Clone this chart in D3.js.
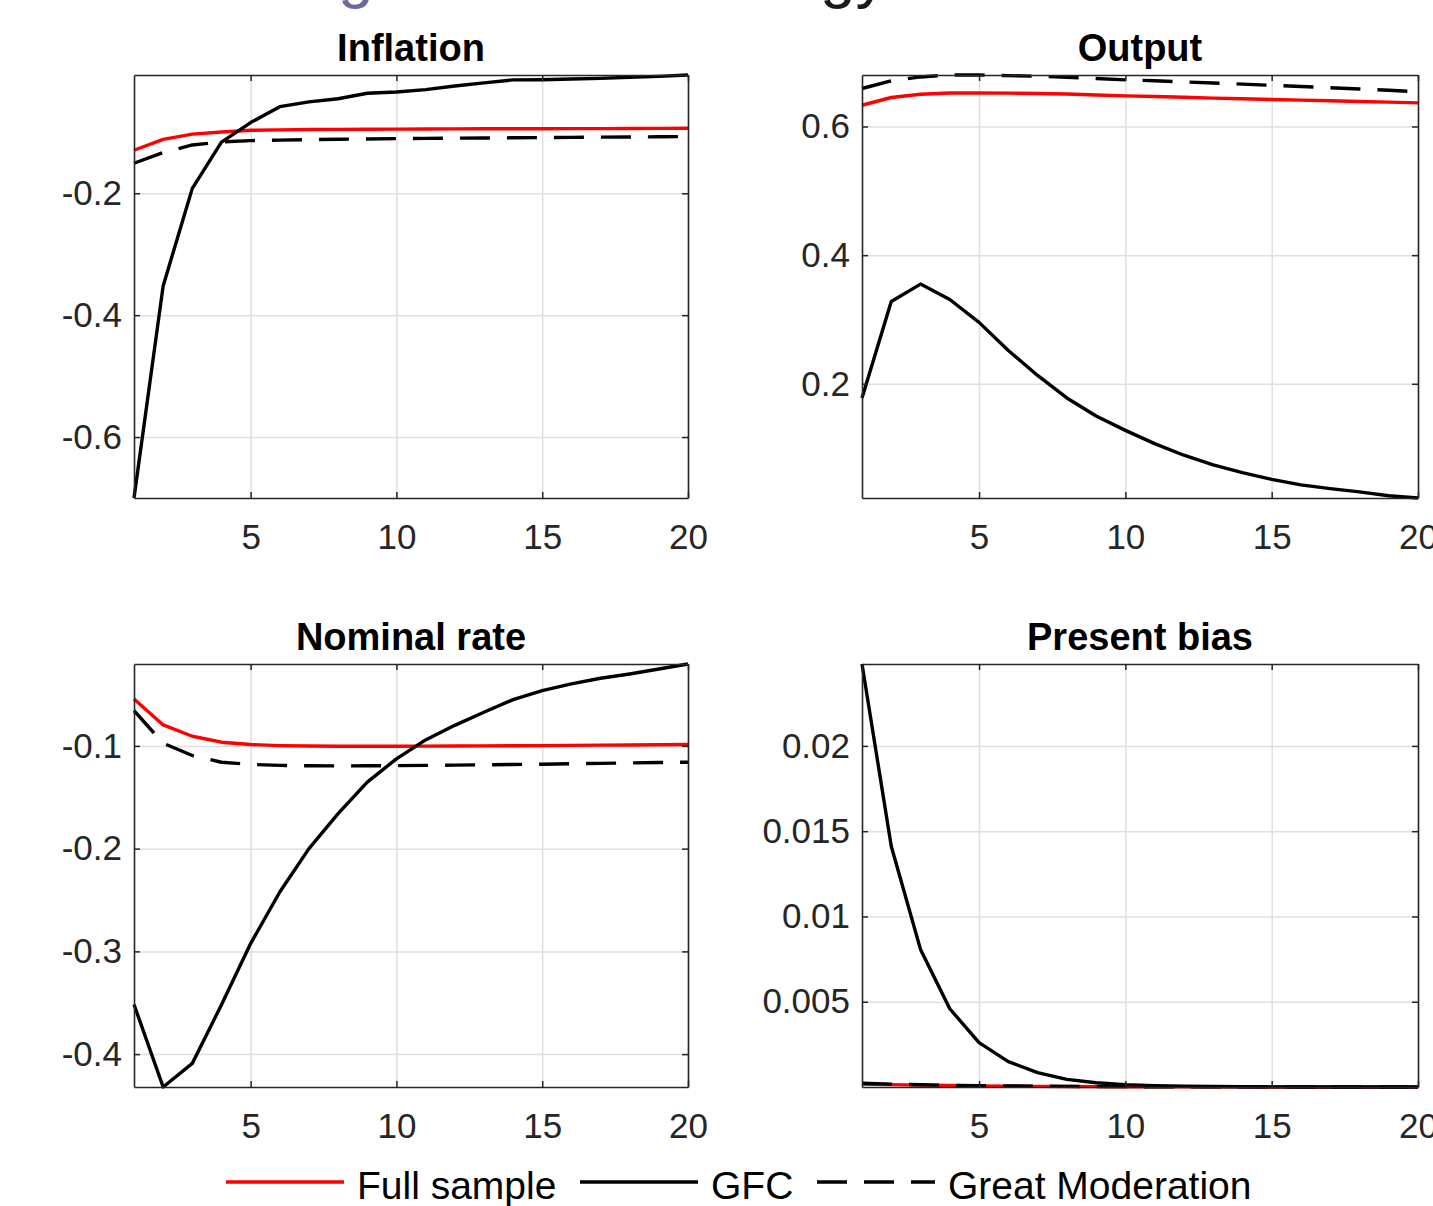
<!DOCTYPE html>
<html>
<head>
<meta charset="utf-8">
<script src="https://cdn.jsdelivr.net/npm/d3@7"></script>
<style>
  body { margin: 0; background: #fff; }
  svg { display: block; font-family: "Liberation Sans", Arial, sans-serif; }
</style>
</head>
<body>
<div id="chart"></div>
<script>
// horizons and tick labels
var periods = [1, 2, 3, 4, 5, 6, 7, 8, 9, 10, 11, 12, 13, 14, 15, 16, 17, 18, 19, 20];
var xTicks = [5, 10, 15, 20];
var legendLabels = ["Full sample", "GFC", "Great Moderation"];

// Inflation
var inflationFull = [-0.1295, -0.1115, -0.103, -0.0995, -0.0967, -0.096, -0.0955, -0.0952, -0.095, -0.0948,
  -0.0946, -0.0944, -0.0943, -0.0942, -0.0941, -0.094, -0.0939, -0.0937, -0.0936, -0.0934];
var inflationGFC = [-0.700, -0.352, -0.192, -0.116, -0.084, -0.058, -0.050, -0.045, -0.036, -0.034,
  -0.030, -0.024, -0.019, -0.014, -0.0137, -0.0126, -0.0115, -0.0098, -0.0082, -0.006];
var inflationGM = [-0.1508, -0.1333, -0.1208, -0.1158, -0.1137, -0.1128, -0.112, -0.1114, -0.1109, -0.1104,
  -0.11, -0.1097, -0.1094, -0.109, -0.1087, -0.1084, -0.108, -0.1077, -0.1073, -0.107];
var inflationTicks = [-0.6, -0.4, -0.2];

// Output
var outputFull = [0.633, 0.645, 0.650, 0.652, 0.652, 0.6518, 0.6512, 0.6505, 0.649, 0.6476,
  0.6465, 0.6453, 0.644, 0.643, 0.642, 0.641, 0.6399, 0.6388, 0.6378, 0.6367];
var outputGFC = [0.178, 0.328, 0.355, 0.331, 0.2955, 0.2518, 0.213, 0.178, 0.150, 0.1276,
  0.107, 0.089, 0.074, 0.062, 0.0515, 0.043, 0.037, 0.032, 0.026, 0.0225];
var outputGM = [0.659, 0.671, 0.677, 0.680, 0.680, 0.679, 0.678, 0.6765, 0.6745, 0.6725,
  0.671, 0.6693, 0.6676, 0.6658, 0.664, 0.6622, 0.6603, 0.6583, 0.6562, 0.654];
var outputTicks = [0.2, 0.4, 0.6];

// Nominal rate
var rateFull = [-0.0543, -0.0796, -0.0906, -0.0964, -0.0987, -0.0997, -0.1001, -0.1003, -0.1003, -0.1003,
  -0.1002, -0.1001, -0.1, -0.0999, -0.0997, -0.0995, -0.0993, -0.0991, -0.0989, -0.0987];
var rateGFC = [-0.3517, -0.432, -0.409, -0.352, -0.2924, -0.2422, -0.200, -0.166, -0.1353, -0.1126,
  -0.0942, -0.080, -0.0673, -0.055, -0.0462, -0.0397, -0.0342, -0.030, -0.0252, -0.0203];
var rateGM = [-0.0657, -0.0974, -0.1094, -0.1159, -0.118, -0.119, -0.1194, -0.1195, -0.1194, -0.1192,
  -0.119, -0.1187, -0.1184, -0.1181, -0.1178, -0.1174, -0.117, -0.1166, -0.1162, -0.1159];
var rateTicks = [-0.4, -0.3, -0.2, -0.1];

// Present bias
var biasFull = [0.00018, 0.00014, 0.00011, 0.00009, 0.00007, 0.00005, 0.00004, 0.00003, 0.000025, 0.00002,
  0.000015, 0.000012, 0.00001, 0.000008, 0.000006, 0.000005, 0.000004, 0.000003, 0.000002, 0.000002];
var biasGFC = [0.0248, 0.01412, 0.00807, 0.00459, 0.0026, 0.00149, 0.00084, 0.00045, 0.00025, 0.00014,
  0.00008, 0.00005, 0.00003, 0.00002, 0.000012, 0.000008, 0.000006, 0.000004, 0.000003, 0.000002];
var biasGM = [0.00022, 0.00017, 0.00013, 0.0001, 0.00008, 0.00006, 0.00005, 0.00004, 0.00003, 0.000024,
  0.000018, 0.000014, 0.000011, 0.000009, 0.000007, 0.000006, 0.000005, 0.000004, 0.000003, 0.000002];
var biasTicks = [0.005, 0.01, 0.015, 0.02];

var W = 1433, H = 1206;
var axisColor = "#262626";
var gridColor = "#dfdfdf";
var styles = [
  { color: "#ff0000", dash: null },
  { color: "#000000", dash: null },
  { color: "#000000", dash: "30,17" }
];

var panels = [
  { title: "Inflation", series: [inflationFull, inflationGFC, inflationGM], yTicks: inflationTicks, left: 134, top: 75, width: 554 },
  { title: "Output", series: [outputFull, outputGFC, outputGM], yTicks: outputTicks, left: 862, top: 75, width: 556 },
  { title: "Nominal rate", series: [rateFull, rateGFC, rateGM], yTicks: rateTicks, left: 134, top: 664, width: 554 },
  { title: "Present bias", series: [biasFull, biasGFC, biasGM], yTicks: biasTicks, left: 862, top: 664, width: 556 }
];
var plotH = 423;

function fmt(v) { return String(+v.toFixed(6)); }

var svg = d3.select("#chart").append("svg").attr("width", W).attr("height", H);
svg.append("rect").attr("width", W).attr("height", H).attr("fill", "#fff");

// bits of the slide title cut off at the top edge
svg.append("text").attr("x", 338).attr("y", -4).attr("font-size", 64).attr("fill", "#6a6a9e").text("g");
svg.append("text").attr("x", 820).attr("y", -4).attr("font-size", 64).attr("fill", "#1a1a1a").text("gy");

panels.forEach(function (p) {
  var g = svg.append("g").attr("transform", "translate(" + p.left + "," + p.top + ")");

  var x = d3.scaleLinear().domain(d3.extent(periods)).range([0, p.width]);
  var all = d3.merge(p.series);
  var y = d3.scaleLinear().domain(d3.extent(all)).range([plotH, 0]);

  // grid
  var gx = g.append("g").attr("transform", "translate(0," + plotH + ")")
    .call(d3.axisBottom(x).tickValues(xTicks).tickSize(-plotH).tickFormat(""));
  var gy = g.append("g")
    .call(d3.axisLeft(y).tickValues(p.yTicks).tickSize(-p.width).tickFormat(""));
  [gx, gy].forEach(function (a) {
    a.select(".domain").remove();
    a.selectAll("line").attr("stroke", gridColor).attr("stroke-width", 1.5);
  });

  // lines
  var line = d3.line().x(function (d, i) { return x(periods[i]); }).y(function (d) { return y(d); });
  p.series.forEach(function (s, k) {
    g.append("path").datum(s)
      .attr("fill", "none")
      .attr("stroke", styles[k].color)
      .attr("stroke-width", 3.4)
      .attr("stroke-dasharray", styles[k].dash)
      .attr("stroke-linejoin", "round")
      .attr("d", line);
  });

  // box axes with inward ticks
  var axB = g.append("g").attr("transform", "translate(0," + plotH + ")")
    .call(d3.axisBottom(x).tickValues(xTicks).tickSizeInner(-6).tickSizeOuter(0).tickPadding(26).tickFormat(fmt));
  var axT = g.append("g")
    .call(d3.axisTop(x).tickValues(xTicks).tickSizeInner(-6).tickSizeOuter(0).tickFormat(""));
  var axL = g.append("g")
    .call(d3.axisLeft(y).tickValues(p.yTicks).tickSizeInner(-6).tickSizeOuter(0).tickPadding(12).tickFormat(fmt));
  var axR = g.append("g").attr("transform", "translate(" + p.width + ",0)")
    .call(d3.axisRight(y).tickValues(p.yTicks).tickSizeInner(-6).tickSizeOuter(0).tickFormat(""));
  [axB, axT, axL, axR].forEach(function (a) {
    a.select(".domain").attr("stroke", axisColor).attr("stroke-width", 1.6);
    a.selectAll("line").attr("stroke", axisColor).attr("stroke-width", 1.5);
    a.selectAll("text").attr("fill", axisColor).attr("font-size", 35)
      .attr("font-family", "'Liberation Sans', Arial, sans-serif");
  });

  g.append("text")
    .attr("x", p.width / 2).attr("y", -14)
    .attr("text-anchor", "middle")
    .attr("font-size", 38).attr("font-weight", "bold").attr("fill", "#000")
    .text(p.title);
});

// legend
var legendX = [226, 580, 817];
var leg = svg.append("g");
legendLabels.forEach(function (lab, k) {
  leg.append("line")
    .attr("x1", legendX[k]).attr("x2", legendX[k] + 118)
    .attr("y1", 1182).attr("y2", 1182)
    .attr("stroke", styles[k].color).attr("stroke-width", 3.4)
    .attr("stroke-dasharray", styles[k].dash);
  leg.append("text")
    .attr("x", legendX[k] + 131).attr("y", 1199)
    .attr("font-size", 39).attr("fill", "#000")
    .text(lab);
});
</script>
</body>
</html>
